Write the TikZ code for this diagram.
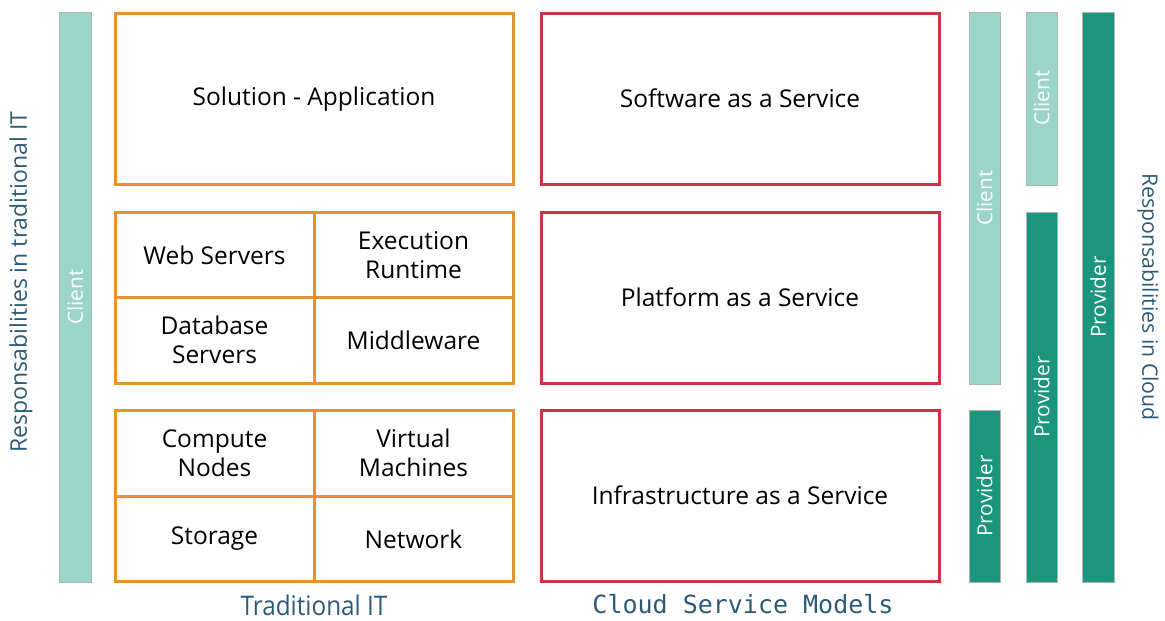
\documentclass[tikz,border=0pt]{standalone}
\usepackage{fontspec}
\setmainfont{Open Sans}
\newfontfamily\monofam{DejaVu Sans Mono}
\newfontfamily\condfam{Open Sans}[FakeStretch=0.9]
\definecolor{tradorange}{HTML}{E8912F}
\definecolor{cloudred}{HTML}{CC3545}
\definecolor{clientteal}{HTML}{9BD5CA}
\definecolor{providerteal}{HTML}{1B967D}
\definecolor{bargray}{HTML}{A8B8B4}
\definecolor{labelblue}{HTML}{2C5A78}
\tikzset{
  tradbox/.style={draw=tradorange, line width=3pt, fill=white},
  cloudbox/.style={draw=cloudred, line width=3pt, fill=white, align=center, font=\fontsize{24.5}{29}\selectfont},
  celltext/.style={align=center, font=\fontsize{24.5}{29}\selectfont, inner sep=0pt},
  clientbar/.style={fill=clientteal, draw=bargray, line width=0.6pt},
  providerbar/.style={fill=providerteal, draw=bargray, line width=0.6pt},
  bartext/.style={text=white, rotate=90, font=\fontsize{20.8}{24}\selectfont, inner sep=0pt},
  sidetext/.style={text=labelblue, inner sep=0pt},
}
\begin{document}
\begin{tikzpicture}[x=1pt, y=-1pt]
\useasboundingbox (0,0) rectangle (1165,621);

% left responsibility bar
\draw[clientbar] (59,12) rectangle (91,582);
\node[bartext] (lclient) at (75,297) {Client};
\node[sidetext, rotate=90, font=\fontsize{23}{27}\selectfont] (lresp) at (21,282) {Responsabilities in traditional IT};

% traditional IT stack
\draw[tradbox] (115,13) rectangle (513,184);
\node[celltext] (sol) at (314,99) {Solution - Application};

\draw[tradbox] (115,212) rectangle (513,383);
\draw[tradorange, line width=3pt] (115,297) -- (513,297) (314,212) -- (314,383);
\node[celltext] (web) at (214.5,255) {Web Servers};
\node[celltext] (exe) at (413.5,255) {Execution\\Runtime};
\node[celltext] (db) at (214.5,340) {Database\\Servers};
\node[celltext] (mid) at (413.5,340) {Middleware};

\draw[tradbox] (115,410) rectangle (513,581);
\draw[tradorange, line width=3pt] (115,496) -- (513,496) (314,410) -- (314,581);
\node[celltext] (comp) at (214.5,453) {Compute\\Nodes};
\node[celltext] (vm) at (413.5,453) {Virtual\\Machines};
\node[celltext] (sto) at (214.5,539) {Storage};
\node[celltext] (net) at (413.5,539) {Network};

\node[text=labelblue, inner sep=0pt, font=\condfam\fontsize{27}{31}\selectfont] (trad) at (314,605) {Traditional IT};

% cloud service models
\node[cloudbox, minimum width=398pt, minimum height=171pt] (saas) at (740,98.5) {Software as a Service};
\node[cloudbox, minimum width=398pt, minimum height=171pt] (paas) at (740,297.5) {Platform as a Service};
\node[cloudbox, minimum width=398pt, minimum height=171pt] (iaas) at (740,495.5) {Infrastructure as a Service};
\node[text=labelblue, inner sep=0pt, font=\monofam\fontsize{25}{29}\selectfont] (csm) at (743,604) {Cloud Service Models};

% cloud responsibility bars
\draw[clientbar] (969,12) rectangle (1000,384);
\node[bartext] (c1) at (984.5,198) {Client};
\draw[providerbar] (969,410) rectangle (1000,582);
\node[bartext] (p1) at (984.5,496) {Provider};

\draw[clientbar] (1026,12) rectangle (1057,185);
\node[bartext] (c2) at (1041.5,98) {Client};
\draw[providerbar] (1026,212) rectangle (1057,582);
\node[bartext] (p2) at (1041.5,397) {Provider};

\draw[providerbar] (1082,12) rectangle (1114,582);
\node[bartext] (p3) at (1098,297) {Provider};

\node[sidetext, rotate=-90, font=\fontsize{21.3}{25}\selectfont] (rresp) at (1148,297) {Responsabilities in Cloud};
\end{tikzpicture}
\end{document}
